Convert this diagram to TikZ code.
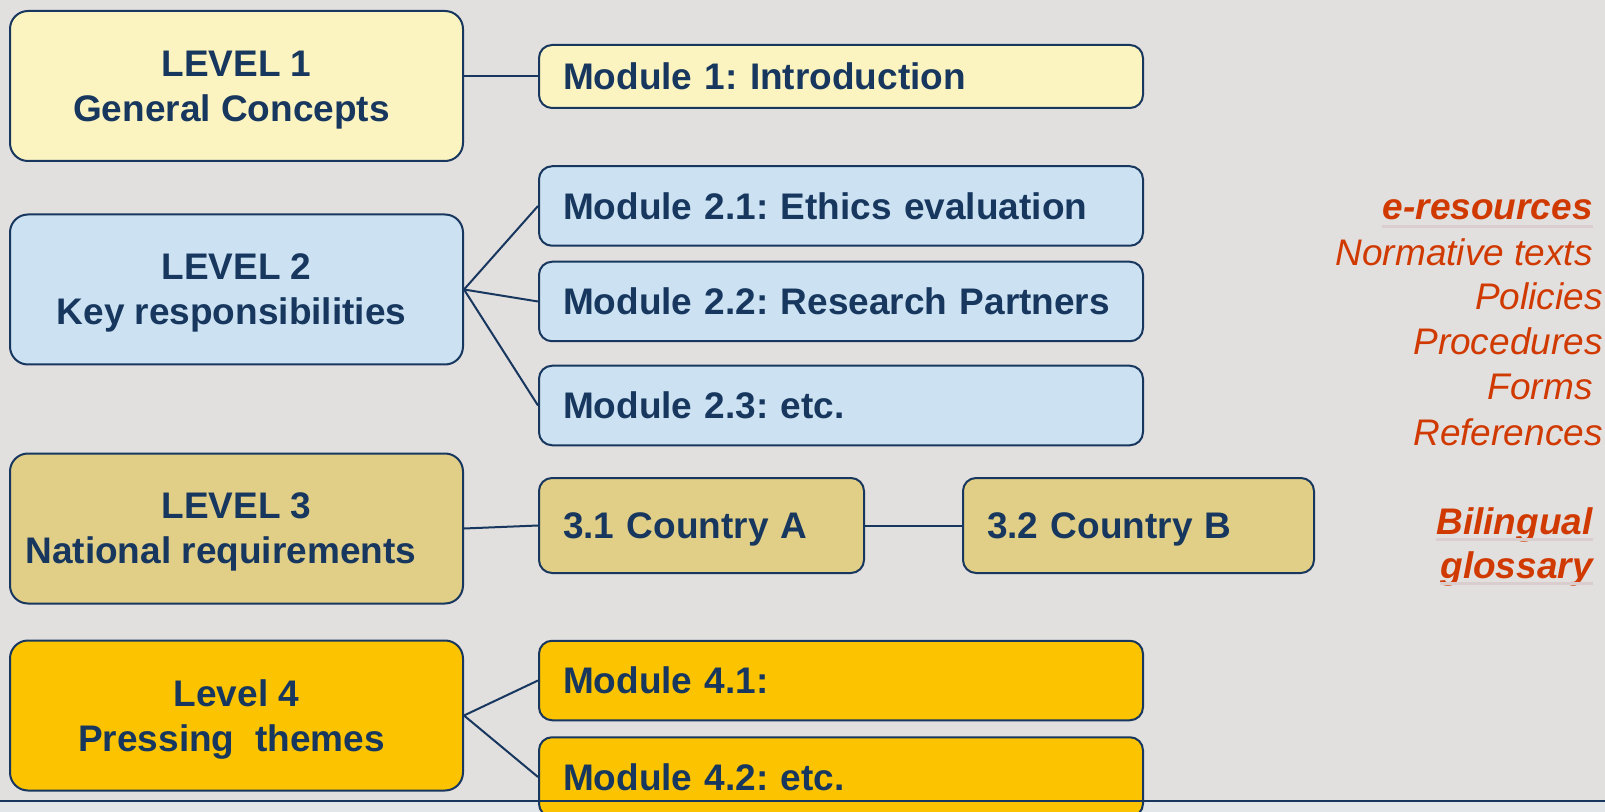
\documentclass[tikz,border=0pt]{standalone}
\usepackage{fontspec}
\setmainfont{Liberation Sans}
\usepackage{tikz}

\definecolor{navy}{HTML}{17375E}
\definecolor{bgcol}{HTML}{E2DFDF}
\definecolor{bandcol}{HTML}{E3E6E9}
\definecolor{redtxt}{HTML}{D03A00}
\definecolor{ulcol}{HTML}{DACDCD}
\definecolor{fillone}{HTML}{FCF4C0}
\definecolor{filltwo}{HTML}{CCE2F2}
\definecolor{fillthree}{HTML}{E1CF88}
\definecolor{fillfour}{HTML}{FCC400}

\begin{document}
\frenchspacing
\begin{tikzpicture}[x=0.5pt, y=-0.5pt,
    levelbox/.style={draw=navy, line width=1pt, rounded corners=9pt,
        minimum width=226.5pt, minimum height=75pt, inner sep=0pt,
        align=center, text=navy, text depth=0pt,
        font=\fontsize{18.5}{22.5}\selectfont\bfseries},
    modbox/.style={draw=navy, line width=1pt, rounded corners=6.5pt,
        inner xsep=12pt, inner ysep=0pt, text width=278pt, minimum height=39.75pt,
        align=left, text=navy, text height=13.2pt, text depth=0pt,
        font=\fontsize{18.5}{21}\selectfont\bfseries},
    link/.style={draw=navy, line width=1pt},
    eres/.style={anchor=base east, text=redtxt, inner sep=0pt,
        font=\fontsize{18.5}{22}\selectfont\itshape},
    uline/.style={draw=ulcol, line width=1.5pt}]

    % page and background
    \useasboundingbox (0, 0) rectangle (1605, 812);
    \clip (0, 0) rectangle (1605, 812);
    \fill[bgcol] (0, 0) rectangle (1605, 812);
    \fill[bandcol] (0, 801) rectangle (1605, 812);

    % levels
    \node[levelbox, fill=fillone] (lev1) at (236.5, 86) {LEVEL 1\\General Concepts\hspace*{5pt}};
    \node[levelbox, fill=filltwo] (lev2) at (236.5, 289.5) {LEVEL 2\\Key responsibilities\hspace*{5pt}};
    \node[levelbox, fill=fillthree] (lev3) at (236.5, 528.5) {LEVEL 3\\National requirements\hspace*{15.7pt}};
    \node[levelbox, fill=fillfour] (lev4) at (236.5, 715.5) {Level 4\\Pressing~~themes\hspace*{5pt}};

    % modules
    \node[modbox, fill=fillone, minimum height=31.5pt] (mod1) at (841, 76.5) {Module 1: Introduction};
    \node[modbox, fill=filltwo] (mod21) at (841, 206) {Module 2.1: Ethics evaluation};
    \node[modbox, fill=filltwo] (mod22) at (841, 301.5) {Module 2.2: Research Partners};
    \node[modbox, fill=filltwo] (mod23) at (841, 405.5) {Module 2.3: etc.};
    \node[modbox, fill=fillthree, text width=138.5pt, minimum height=47.5pt] (ctra) at (701.5, 525.5) {3.1 Country A};
    \node[modbox, fill=fillthree, text width=151.5pt, minimum height=47.5pt] (ctrb) at (1138.5, 525.5) {3.2 Country B};
    \node[modbox, fill=fillfour] (mod41) at (841, 680.5) {Module 4.1:};
    \node[modbox, fill=fillfour] (mod42) at (841, 777) {Module 4.2: etc.};

    % links
    \draw[link] (mod1.west -| lev1.east) -- (mod1.west);
    \draw[link] (lev2.east) -- (mod21.west);
    \draw[link] (lev2.east) -- (mod22.west);
    \draw[link] (lev2.east) -- (mod23.west);
    \draw[link] (lev3.east) -- (ctra.west);
    \draw[link] (ctra.east) -- (ctrb.west);
    \draw[link] (lev4.east) -- (mod41.west);
    \draw[link] (lev4.east) -- (mod42.west);

    % resources on the right
    \node[eres, font=\fontsize{18.5}{22}\selectfont\bfseries\itshape] (eres) at (1593, 220) {e-resources};
    \node[eres] (normtxt) at (1593, 266) {Normative texts};
    \node[eres] (policies) at (1603, 310) {Policies};
    \node[eres] (proced) at (1603, 355) {Procedures};
    \node[eres] (forms) at (1593, 400) {Forms};
    \node[eres] (refs) at (1603, 445) {References};
    \node[eres, font=\fontsize{18.5}{22}\selectfont\bfseries\itshape] (biling) at (1593, 534) {Bilingual};
    \node[eres, font=\fontsize{18.5}{22}\selectfont\bfseries\itshape] (gloss) at (1593, 578) {glossary};
    \draw[uline] ([yshift=-3.5pt]eres.base west) -- ([yshift=-3.5pt]eres.base east);
    \draw[uline] ([yshift=-2.5pt]biling.base west) -- ([yshift=-2.5pt]biling.base east);
    \draw[uline] ([yshift=-2.5pt]gloss.base west) -- ([yshift=-2.5pt]gloss.base east);

    % bottom rule
    \draw[navy, line width=1pt] (0, 801) -- (1605, 801);
\end{tikzpicture}
\end{document}
